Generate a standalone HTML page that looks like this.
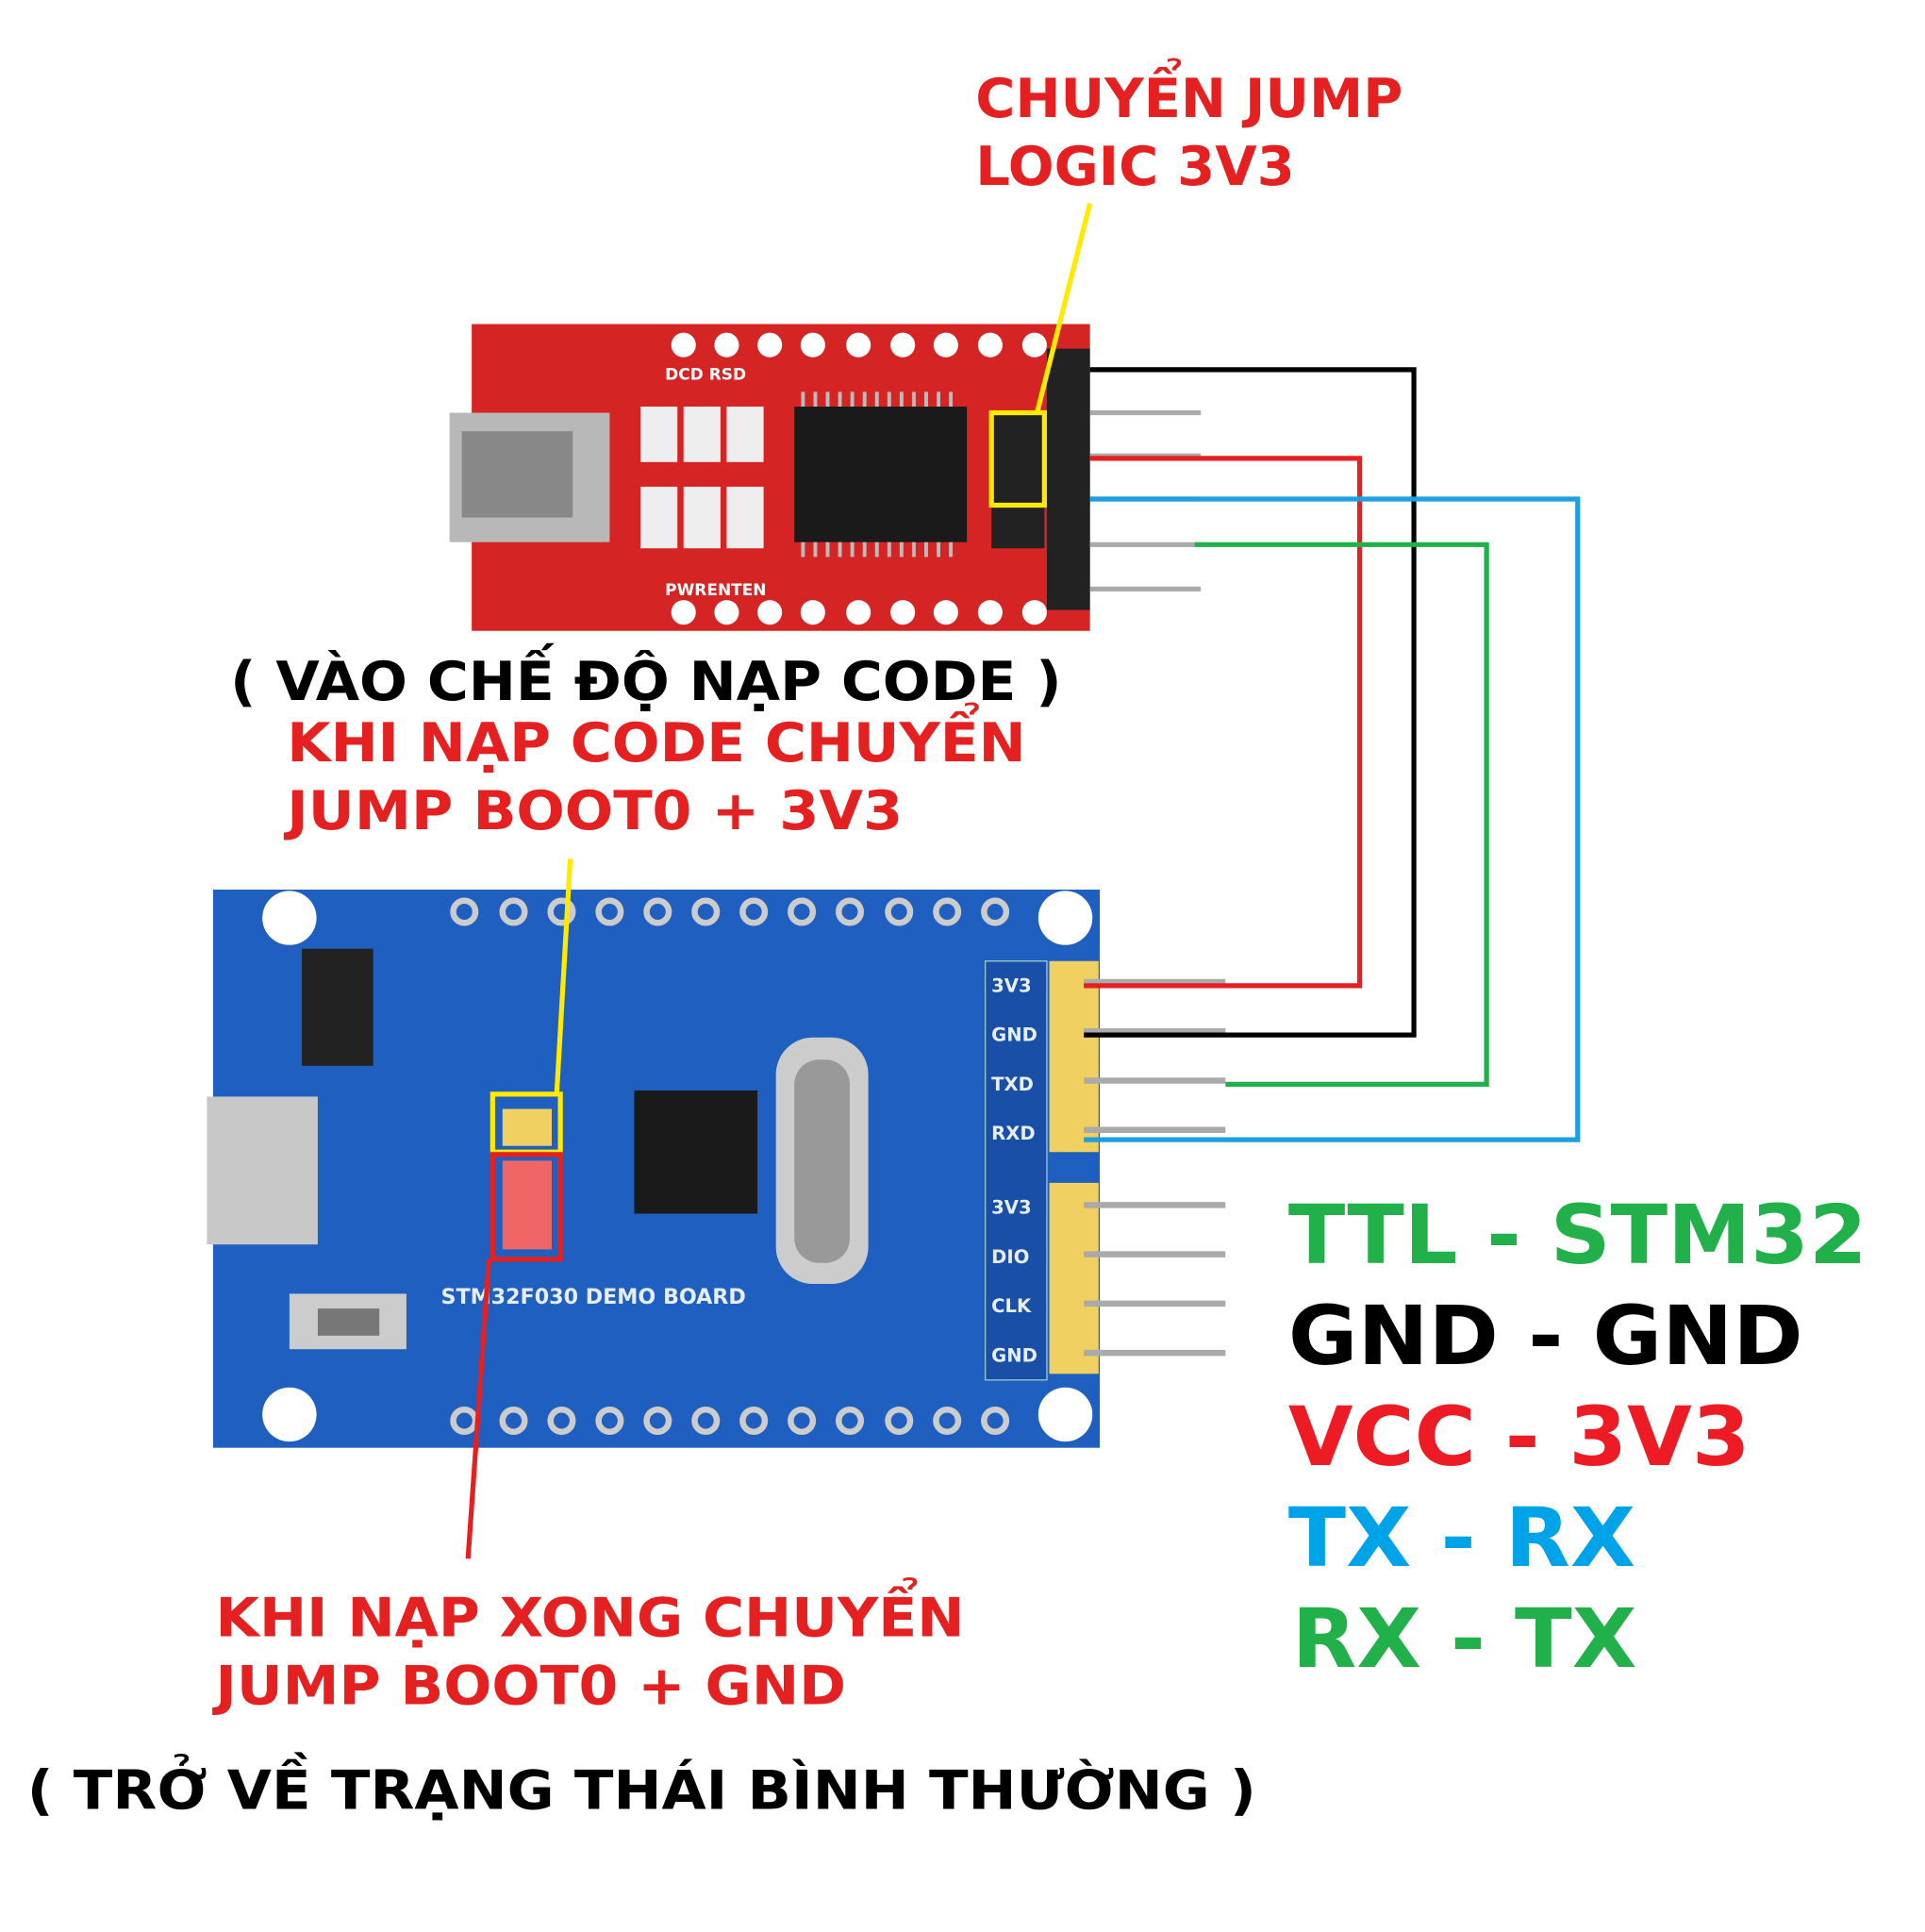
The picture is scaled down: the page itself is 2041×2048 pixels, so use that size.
<!DOCTYPE html>
<html><head><meta charset="utf-8"><style>
html,body{margin:0;padding:0;background:#fff}
svg{display:block}
text{font-family:"DejaVu Sans","Liberation Sans",sans-serif;font-weight:bold}
</style></head><body>
<svg width="2041" height="2048" viewBox="0 0 1563 1568" preserveAspectRatio="none" xmlns="http://www.w3.org/2000/svg">
<rect width="1563" height="1568" fill="#fff"/>
<!-- FTDI red board -->
<rect x="383" y="263" width="502" height="249" fill="#d42424"/>
<g fill="#fff">
<circle cx="555" cy="280" r="10"/><circle cx="590" cy="280" r="10"/><circle cx="625" cy="280" r="10"/><circle cx="660" cy="280" r="10"/><circle cx="697" cy="280" r="10"/><circle cx="733" cy="280" r="10"/><circle cx="768" cy="280" r="10"/><circle cx="804" cy="280" r="10"/><circle cx="840" cy="280" r="10"/>
<circle cx="555" cy="497" r="10"/><circle cx="590" cy="497" r="10"/><circle cx="625" cy="497" r="10"/><circle cx="660" cy="497" r="10"/><circle cx="697" cy="497" r="10"/><circle cx="733" cy="497" r="10"/><circle cx="768" cy="497" r="10"/><circle cx="804" cy="497" r="10"/><circle cx="840" cy="497" r="10"/>
</g>
<rect x="645" y="330" width="140" height="110" fill="#1a1a1a"/>
<g stroke="#bbb" stroke-width="3"><path d="M652 330v-12M662 330v-12M672 330v-12M682 330v-12M692 330v-12M702 330v-12M712 330v-12M722 330v-12M732 330v-12M742 330v-12M752 330v-12M762 330v-12M772 330v-12M652 440v12M662 440v12M672 440v12M682 440v12M692 440v12M702 440v12M712 440v12M722 440v12M732 440v12M742 440v12M752 440v12M762 440v12M772 440v12"/></g>
<rect x="365" y="335" width="130" height="105" fill="#b8b8b8"/>
<rect x="375" y="350" width="90" height="70" fill="#888"/>
<g fill="#eee"><rect x="520" y="330" width="30" height="45"/><rect x="555" y="330" width="30" height="45"/><rect x="590" y="330" width="30" height="45"/><rect x="520" y="395" width="30" height="50"/><rect x="555" y="395" width="30" height="50"/><rect x="590" y="395" width="30" height="50"/></g>
<rect x="805" y="335" width="43" height="110" fill="#222"/>
<rect x="850" y="283" width="35" height="212" fill="#222"/>
<g stroke="#aaa" stroke-width="4"><path d="M885 300h90M885 335h90M885 370h90M885 405h90M885 442h90M885 478h90"/></g>
<g fill="#fff" font-size="13"><text x="540" y="308">DCD RSD</text><text x="540" y="483">PWRENTEN</text></g>
<rect x="805" y="335" width="43" height="75" fill="none" stroke="#ffea00" stroke-width="4"/>
<line x1="885" y1="165" x2="842" y2="335" stroke="#ffea00" stroke-width="4"/>
<!-- STM blue board -->
<rect x="173" y="722" width="720" height="453" fill="#1f5fbf"/>
<g fill="#fff"><circle cx="235" cy="745" r="22"/><circle cx="865" cy="745" r="22"/><circle cx="235" cy="1148" r="22"/><circle cx="865" cy="1148" r="22"/></g>
<g fill="none" stroke="#ccc" stroke-width="5">
<circle cx="377" cy="740" r="9"/><circle cx="417" cy="740" r="9"/><circle cx="456" cy="740" r="9"/><circle cx="495" cy="740" r="9"/><circle cx="534" cy="740" r="9"/><circle cx="573" cy="740" r="9"/><circle cx="612" cy="740" r="9"/><circle cx="651" cy="740" r="9"/><circle cx="690" cy="740" r="9"/><circle cx="730" cy="740" r="9"/><circle cx="769" cy="740" r="9"/><circle cx="808" cy="740" r="9"/>
<circle cx="377" cy="1153" r="9"/><circle cx="417" cy="1153" r="9"/><circle cx="456" cy="1153" r="9"/><circle cx="495" cy="1153" r="9"/><circle cx="534" cy="1153" r="9"/><circle cx="573" cy="1153" r="9"/><circle cx="612" cy="1153" r="9"/><circle cx="651" cy="1153" r="9"/><circle cx="690" cy="1153" r="9"/><circle cx="730" cy="1153" r="9"/><circle cx="769" cy="1153" r="9"/><circle cx="808" cy="1153" r="9"/>
</g>
<rect x="245" y="770" width="58" height="95" fill="#222"/>
<rect x="515" y="885" width="100" height="100" fill="#1a1a1a"/>
<rect x="630" y="842" width="75" height="200" rx="30" fill="#ccc"/>
<rect x="645" y="860" width="45" height="165" rx="20" fill="#999"/>
<rect x="168" y="890" width="90" height="120" fill="#c8c8c8"/>
<rect x="235" y="1050" width="95" height="45" fill="#ccc"/><rect x="258" y="1062" width="50" height="22" fill="#777"/>
<rect x="800" y="780" width="50" height="340" fill="#1a4fa8" stroke="#9cc" stroke-width="1"/>
<rect x="852" y="780" width="40" height="155" fill="#f0d060"/>
<rect x="852" y="960" width="40" height="155" fill="#f0d060"/>
<g stroke="#aaa" stroke-width="5"><path d="M880 797h115M880 837h115M880 877h115M880 917h115M880 978h115M880 1018h115M880 1058h115M880 1098h115"/></g>
<g fill="#e8eef8" font-size="15"><text x="805" y="805">3V3</text><text x="805" y="845">GND</text><text x="805" y="885">TXD</text><text x="805" y="925">RXD</text><text x="805" y="985">3V3</text><text x="805" y="1025">DIO</text><text x="805" y="1065">CLK</text><text x="805" y="1105">GND</text><text x="358" y="1058" font-size="17">STM32F030 DEMO BOARD</text></g>
<rect x="408" y="900" width="40" height="30" fill="#f0d060"/>
<rect x="408" y="942" width="40" height="72" fill="#e66"/>
<rect x="400" y="888" width="55" height="47" fill="none" stroke="#ffea00" stroke-width="4"/>
<rect x="400" y="937" width="55" height="85" fill="none" stroke="#e52020" stroke-width="4"/>
<line x1="463" y1="697" x2="452" y2="888" stroke="#ffea00" stroke-width="4"/>
<line x1="397" y1="1022" x2="380" y2="1265" stroke="#e52020" stroke-width="4"/>
<!-- wires -->
<g fill="none" stroke-width="4">
<path d="M885 300H1148V840H880" stroke="#000"/>
<path d="M885 372H1104V800H880" stroke="#e52020"/>
<path d="M885 405H1281V925H880" stroke="#1ea0e0"/>
<path d="M970 442H1207V880H995" stroke="#22b04a"/>
</g>
<!-- texts -->
<g font-size="44">
<text x="792" y="95" fill="#e52020">CHUYỂN JUMP</text>
<text x="792" y="150" fill="#e52020">LOGIC 3V3</text>
<text x="187" y="568" fill="#000" textLength="675" lengthAdjust="spacingAndGlyphs">( VÀO CHẾ ĐỘ NẠP CODE )</text>
<text x="233" y="618" fill="#e52020" textLength="600" lengthAdjust="spacingAndGlyphs">KHI NẠP CODE CHUYỂN</text>
<text x="233" y="673" fill="#e52020" textLength="500" lengthAdjust="spacingAndGlyphs">JUMP BOOT0 + 3V3</text>
<text x="175" y="1328" fill="#e52020" textLength="608" lengthAdjust="spacingAndGlyphs">KHI NẠP XONG CHUYỂN</text>
<text x="175" y="1383" fill="#e52020" textLength="512" lengthAdjust="spacingAndGlyphs">JUMP BOOT0 + GND</text>
<text x="22" y="1468" fill="#000" textLength="998" lengthAdjust="spacingAndGlyphs">( TRỞ VỀ TRẠNG THÁI BÌNH THƯỜNG )</text>
</g>
<g font-size="66">
<text x="1046" y="1025" fill="#22b04a" textLength="470" lengthAdjust="spacingAndGlyphs">TTL - STM32</text>
<text x="1046" y="1107" fill="#000" textLength="418" lengthAdjust="spacingAndGlyphs">GND - GND</text>
<text x="1046" y="1189" fill="#ed1c24" textLength="375" lengthAdjust="spacingAndGlyphs">VCC - 3V3</text>
<text x="1046" y="1271" fill="#00a2e8" textLength="282" lengthAdjust="spacingAndGlyphs">TX - RX</text>
<text x="1049" y="1353" fill="#22b04a" textLength="280" lengthAdjust="spacingAndGlyphs">RX - TX</text>
</g>
</svg>
</body></html>
